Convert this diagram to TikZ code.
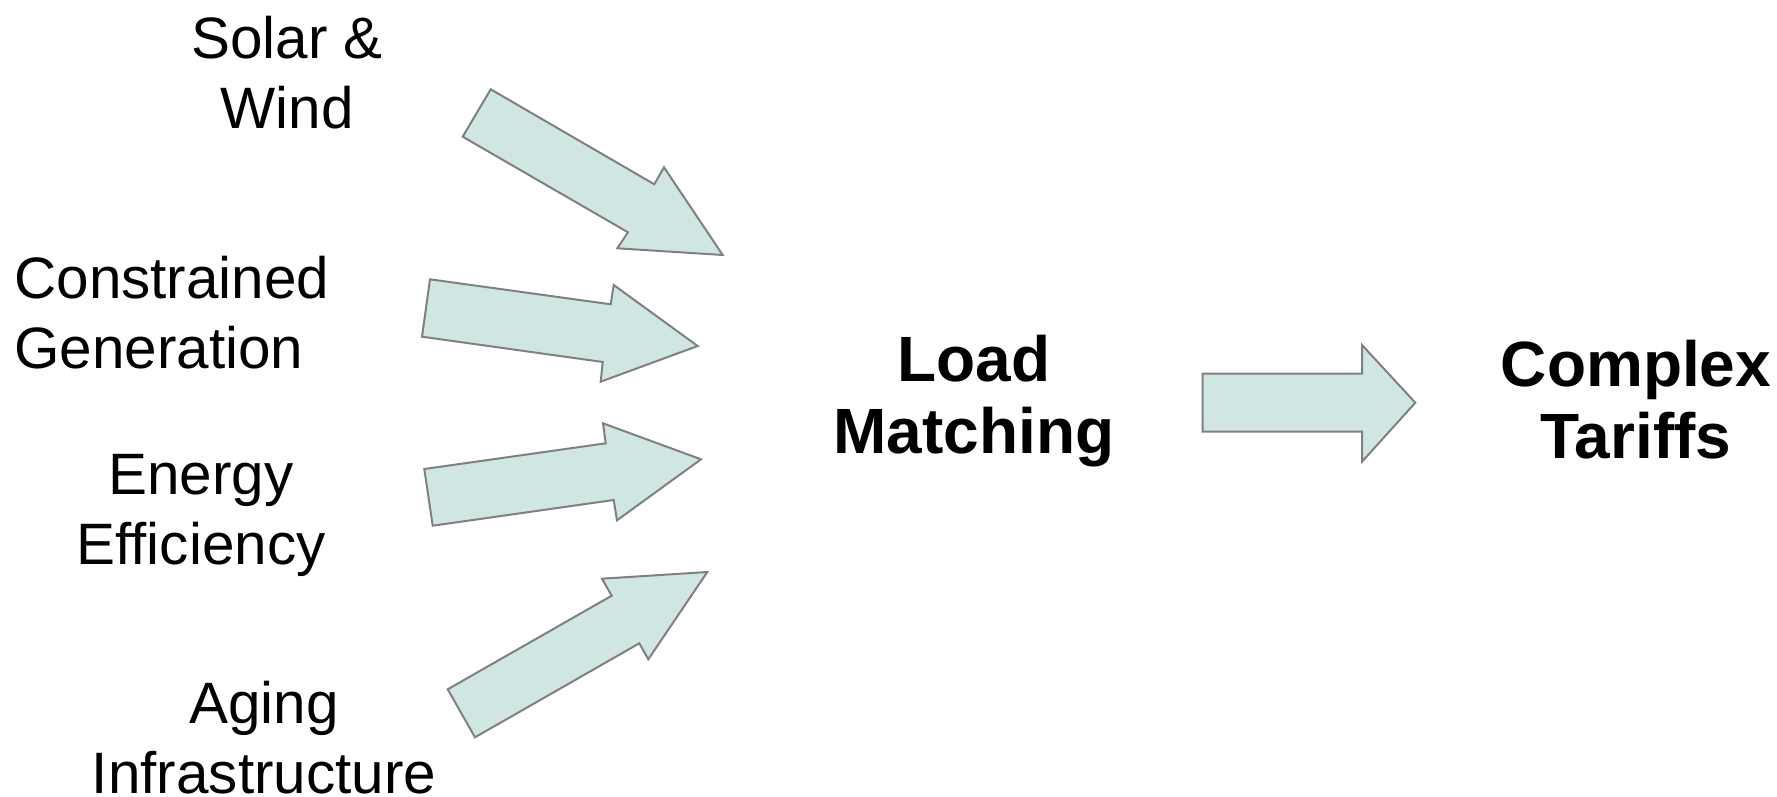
\documentclass[tikz,border=0pt]{standalone}
\usepackage{fontspec}
\setmainfont{Liberation Sans}
\definecolor{arrowfill}{RGB}{208,230,227}
\definecolor{arrowline}{RGB}{128,128,128}
\tikzset{
  blockarrow/.style={fill=arrowfill, draw=arrowline, line width=1pt, line join=miter},
  lbl/.style={inner sep=0pt, align=center, anchor=base, font={\fontsize{29.2}{34.9}\selectfont}},
  biglbl/.style={inner sep=0pt, align=center, anchor=base, font={\fontsize{32}{36}\selectfont\bfseries}}
}
\begin{document}
\begin{tikzpicture}[x=0.5pt, y=-0.5pt]
\useasboundingbox (0,0) rectangle (1777,797);
% arrows
\draw[blockarrow] (490.7,89.3) -- (654.3,184.3) -- (664,167.3) -- (722.7,255) -- (617.3,248.3) -- (628,232.3) -- (462.7,136.7) -- cycle;
\draw[blockarrow] (430,279.3) -- (610.7,304.3) -- (613.7,285) -- (697.7,346) -- (600.7,381.7) -- (602.7,362) -- (422,336.7) -- cycle;
\draw[blockarrow] (424.3,469) -- (605.7,443.3) -- (603,423.3) -- (701,459.3) -- (617,520.3) -- (613.7,500) -- (432.7,525.7) -- cycle;
\draw[blockarrow] (447.7,689.3) -- (611.7,595.7) -- (602,578.7) -- (707.3,572) -- (648.3,659.3) -- (639.3,643.3) -- (475,737.3) -- cycle;
\draw[blockarrow] (1202.7,373.7) -- (1362,373.7) -- (1362,345) -- (1415.3,402.7) -- (1362,461.7) -- (1362,431.7) -- (1202.7,431.7) -- cycle;
% labels (anchor = baseline of last line)
\node[lbl] (solar) at (287,128) {Solar \&\\Wind};
\node[lbl, align=left, anchor=base west] (constr) at (14,368) {Constrained\\Generation};
\node[lbl] (energy) at (201,564) {Energy\\Efficiency};
\node[lbl] (aging) at (264,793) {Aging\\Infrastructure};
\node[biglbl] (load) at (974,453) {Load\\Matching};
\node[biglbl] (complex) at (1636,458) {Complex\\Tariffs};
\end{tikzpicture}
\end{document}
